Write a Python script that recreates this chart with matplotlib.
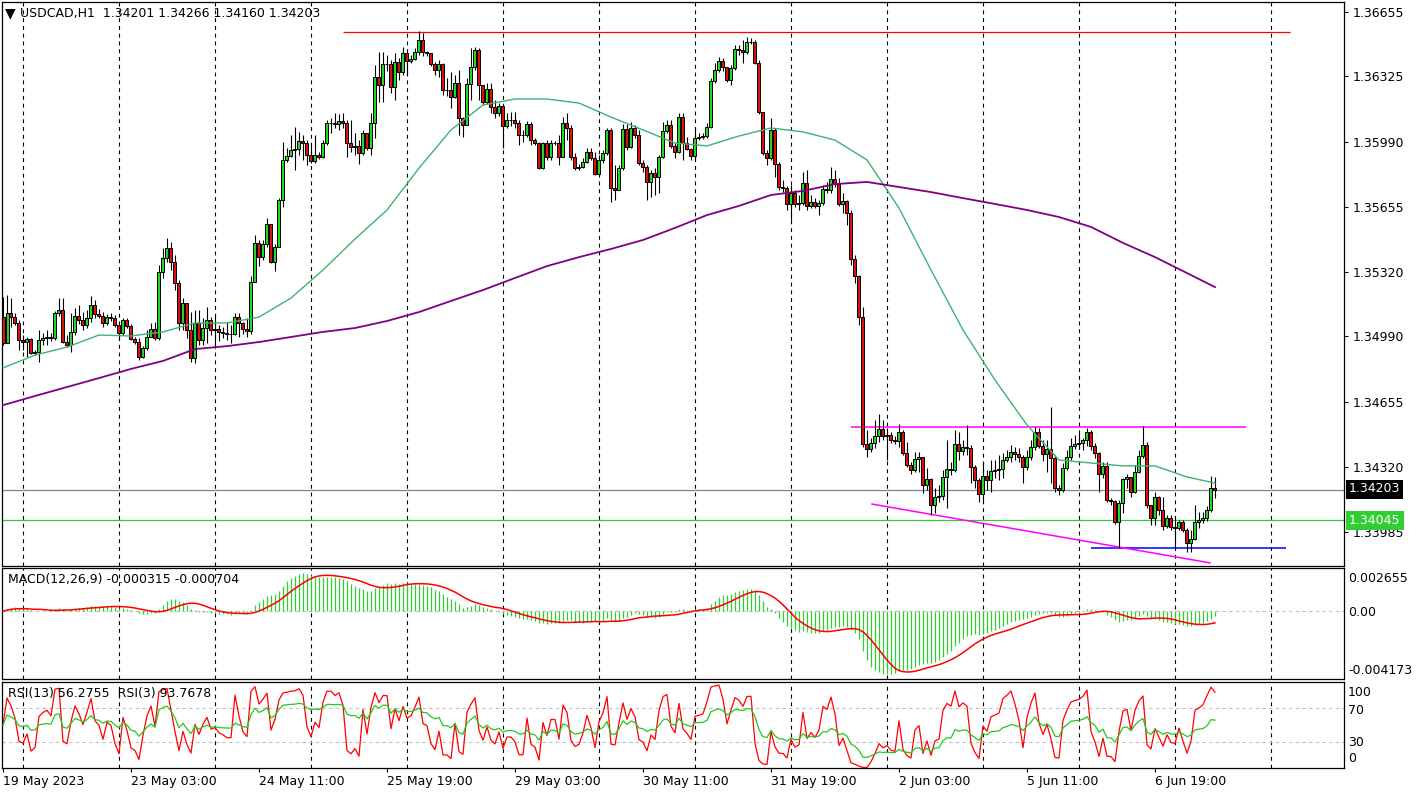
import matplotlib
matplotlib.use('Agg')
import matplotlib.pyplot as plt
import numpy as np
import pandas as pd

# USDCAD H1 bars, in points (1 point = 0.00001)
first_open = 135089
close_pts = [
    134956, 135110, 135089, 135059, 134971, 134961, 134977, 134905, 134910, 134971,
    134982, 134987, 134982, 135110, 135125, 134961, 134945, 135013, 135094, 135074,
    135048, 135084, 135151, 135104, 135094, 135059, 135089, 135084, 135048, 135008,
    135074, 135043, 134977, 134961, 134884, 134930, 134987, 135028, 134982, 135321,
    135392, 135444, 135372, 135264, 135059, 135162, 135023, 134879, 135059, 134971,
    135033, 135074, 135023, 135028, 135013, 135008, 135003, 135003, 135089, 135059,
    135028, 135018, 135269, 135470, 135397, 135464, 135567, 135372, 135449, 135690,
    135896, 135916, 135947, 135952, 135993, 135983, 135921, 135891, 135921, 135911,
    135983, 136086, 136086, 136081, 136096, 136086, 135983, 135962, 135968, 135932,
    136035, 135957, 136086, 136322, 136281, 136388, 136388, 136270, 136399, 136348,
    136445, 136404, 136414, 136450, 136512, 136450, 136445, 136388, 136358, 136388,
    136255, 136255, 136219, 136291, 136111, 136075, 136286, 136373, 136460, 136281,
    136193, 136260, 136168, 136137, 136173, 136070, 136101, 136101, 136086, 136024,
    136024, 136081, 135998, 135983, 135854, 135983, 135911, 135983, 135983, 135911,
    136086, 136060, 135911, 135854, 135860, 135886, 135937, 135906, 135823, 135896,
    135932, 136050, 135752, 135742, 135854, 136055, 135962, 136060, 136024, 135880,
    135860, 135783, 135829, 135808, 135911, 136045, 136075, 135968, 135937, 136116,
    135983, 135952, 135916, 136009, 136014, 136019, 136065, 136301, 136358, 136404,
    136373, 136306, 136368, 136466, 136460, 136450, 136502, 136502, 136394, 136142,
    135932, 135906, 136050, 135875, 135757, 135752, 135670, 135726, 135670, 135675,
    135778, 135660, 135680, 135660, 135675, 135747, 135742, 135798, 135772, 135670,
    135685, 135624, 135387, 135300, 135089, 134437, 134412, 134443, 134479, 134515,
    134479, 134484, 134458, 134453, 134499, 134391, 134330, 134304, 134361, 134371,
    134227, 134258, 134124, 134165, 134170, 134268, 134309, 134304, 134437, 134401,
    134422, 134417, 134319, 134253, 134181, 134273, 134253, 134299, 134304, 134309,
    134355, 134371, 134397, 134386, 134371, 134319, 134371, 134422, 134499, 134427,
    134386, 134412, 134366, 134211, 134201, 134314, 134371, 134427, 134437, 134443,
    134458, 134499, 134427, 134391, 134283, 134325, 134150, 134145, 134037, 134134,
    134258, 134268, 134191, 134294, 134376, 134432, 134124, 134058, 134165, 134099,
    134017, 134058, 134011, 134006, 134037, 133996, 133930, 133950, 134037, 134047,
    134058, 134099, 134211, 134203,
]
high_pts = [
    135192, 135202, 135187, 135110, 135074, 134997, 134987, 134982, 134920, 135023,
    135008, 135023, 135008, 135120, 135187, 135187, 134997, 135110, 135136, 135151,
    135115, 135125, 135197, 135177, 135130, 135115, 135104, 135110, 135099, 135043,
    135084, 135084, 135053, 134987, 134982, 134940, 135023, 135059, 135064, 135356,
    135444, 135495, 135475, 135408, 135279, 135187, 135162, 135115, 135125, 135125,
    135084, 135141, 135089, 135099, 135048, 135038, 135064, 135048, 135110, 135110,
    135064, 135084, 135300, 135510, 135485, 135485, 135598, 135567, 135464, 135700,
    135988, 135957, 136024, 136065, 136040, 136024, 135998, 135973, 136024, 135937,
    135998, 136101, 136111, 136137, 136132, 136137, 136101, 136101, 136035, 135998,
    136050, 136035, 136137, 136384, 136450, 136450, 136435, 136409, 136445, 136419,
    136476, 136450, 136435, 136471, 136558, 136548, 136455, 136435, 136399, 136409,
    136394, 136317, 136348, 136332, 136358, 136116, 136317, 136471, 136476, 136471,
    136281, 136291, 136291, 136204, 136189, 136142, 136137, 136142, 136142, 136101,
    136050, 136096, 136091, 136009, 135988, 135988, 135998, 135998, 135993, 136024,
    136116, 136137, 136075, 135932, 135875, 135906, 135957, 135957, 135937, 135921,
    135947, 136060, 136060, 135870, 135870, 136081, 136081, 136091, 136075, 136050,
    135896, 135870, 135844, 135854, 135921, 136091, 136101, 136101, 135983, 136137,
    136137, 136014, 135957, 136060, 136035, 136035, 136086, 136317, 136394, 136425,
    136419, 136368, 136384, 136486, 136486, 136512, 136527, 136522, 136512, 136409,
    136142, 135947, 136111, 136060, 135886, 135793, 135762, 135767, 135742, 135716,
    135834, 135844, 135716, 135700, 135690, 135767, 135783, 135860, 135844, 135803,
    135726, 135690, 135639, 135408, 135305, 135141, 134509, 134468, 134561, 134591,
    134561, 134520, 134499, 134479, 134540, 134509, 134448, 134345, 134397, 134397,
    134304, 134314, 134263, 134211, 134227, 134304, 134458, 134345, 134509, 134499,
    134458, 134535, 134432, 134330, 134263, 134345, 134304, 134355, 134355, 134381,
    134391, 134407, 134432, 134422, 134417, 134381, 134407, 134458, 134525, 134520,
    134458, 134458, 134627, 134381, 134227, 134340, 134407, 134468, 134484, 134494,
    134468, 134520, 134509, 134443, 134397, 134345, 134345, 134160, 134150, 134150,
    134263, 134283, 134253, 134330, 134407, 134530, 134448, 134124, 134191, 134170,
    134165, 134073, 134073, 134058, 134047, 134047, 134006, 133996, 134124, 134088,
    134088, 134119, 134273, 134266,
]
low_pts = [
    134945, 134971, 135038, 135048, 134920, 134920, 134884, 134900, 134894, 134859,
    134945, 134945, 134966, 134971, 135094, 134956, 134935, 134910, 134997, 135053,
    135023, 135033, 135064, 135084, 135084, 135038, 135048, 135069, 135038, 134971,
    134997, 135033, 134971, 134950, 134869, 134879, 134920, 134987, 134971, 134971,
    135290, 135372, 135331, 135228, 135023, 135023, 134982, 134859, 134854, 134945,
    134945, 134956, 134997, 134945, 134966, 134982, 134971, 134956, 134997, 134987,
    135003, 134987, 135003, 135269, 135351, 135382, 135449, 135367, 135326, 135449,
    135654, 135886, 135911, 135844, 135921, 135896, 135870, 135880, 135880, 135901,
    135906, 135973, 136035, 136060, 136050, 136060, 135911, 135937, 135921, 135875,
    135921, 135947, 135921, 136009, 136193, 136193, 136353, 136240, 136204, 136306,
    136332, 136332, 136394, 136409, 136435, 136430, 136430, 136378, 136332, 136322,
    136229, 136224, 136163, 136214, 136024, 136014, 136075, 136204, 136358, 136204,
    136178, 136183, 136137, 136111, 136121, 135957, 136060, 136070, 136060, 135973,
    135988, 136014, 135973, 135973, 135849, 135849, 135896, 135896, 135973, 135870,
    135911, 135998, 135896, 135844, 135844, 135854, 135880, 135896, 135818, 135818,
    135880, 135921, 135680, 135690, 135742, 135844, 135947, 135957, 136009, 135870,
    135834, 135690, 135706, 135716, 135726, 135906, 136035, 135957, 135906, 135932,
    135896, 135947, 135896, 135896, 135998, 136004, 136009, 136060, 136291, 136348,
    136353, 136296, 136281, 136358, 136435, 136394, 136440, 136491, 136389, 136132,
    135921, 135870, 135896, 135808, 135742, 135732, 135639, 135588, 135654, 135639,
    135665, 135639, 135649, 135649, 135613, 135665, 135726, 135726, 135757, 135660,
    135624, 135562, 135356, 135264, 135048, 134422, 134371, 134397, 134417, 134448,
    134458, 134355, 134443, 134437, 134422, 134381, 134319, 134283, 134294, 134294,
    134186, 134201, 134073, 134083, 134140, 134150, 134109, 134278, 134294, 134355,
    134381, 134381, 134237, 134211, 134140, 134140, 134201, 134191, 134263, 134253,
    134263, 134345, 134345, 134355, 134345, 134237, 134304, 134355, 134407, 134417,
    134350, 134294, 134237, 134191, 134175, 134191, 134304, 134355, 134412, 134417,
    134407, 134427, 134407, 134366, 134191, 134263, 134140, 134124, 134027, 133904,
    134083, 134211, 134165, 134186, 134289, 134366, 134109, 134022, 134022, 134073,
    133996, 134006, 133996, 133904, 133996, 133986, 133883, 133883, 133945, 134006,
    134032, 134042, 134088, 134160,
]

# moving averages read every 8 bars
ma_bars = list(range(0, 297, 8)) + [303]
ma_fast_pts = [
    134828, 134894, 134935, 134997, 134992, 135013, 135059, 135059, 135089, 135187,
    135331, 135490, 135639, 135854, 136050, 136178, 136209, 136209, 136188, 136116,
    136050, 135983, 135968, 136019, 136060, 136040, 135998, 135896, 135649, 135331,
    135023, 134766, 134535, 134355, 134340, 134325, 134325, 134268, 134237,
]
ma_slow_pts = [
    134637, 134684, 134730, 134776, 134823, 134864, 134925, 134940, 134961, 134987,
    135013, 135033, 135069, 135115, 135172, 135228, 135290, 135351, 135397, 135439,
    135485, 135547, 135613, 135660, 135716, 135737, 135772, 135783, 135757, 135731,
    135700, 135670, 135639, 135603, 135552, 135470, 135397, 135315, 135243,
]

date_bars = [0, 32, 64, 96, 128, 160, 192, 224, 256, 288]
date_labels = ['19 May 2023', '23 May 03:00', '24 May 11:00', '25 May 19:00',
               '29 May 03:00', '30 May 11:00', '31 May 19:00', '2 Jun 03:00',
               '5 Jun 11:00', '6 Jun 19:00']
grid_bars = list(range(5, 330, 24))
price_ticks = [1.36655, 1.36325, 1.35990, 1.35655, 1.35320, 1.34990, 1.34655, 1.34320, 1.33985]

# drawn objects: (bar from, bar to, price)
resist_top = (85, 321.75, 1.36553)
range_top = (212, 310.75, 1.34525)
support_low = (272, 320.75, 1.33904)
trend_line = ((217.25, 301.75), (1.34129, 1.33827))
last_price = 1.34203
green_level = 1.34045

W, H = 1416, 795
FS = 9

close = np.array(close_pts) / 1e5
opens = np.concatenate([[first_open / 1e5], close[:-1]])
high = np.maximum(np.array(high_pts) / 1e5, np.maximum(opens, close))
low = np.minimum(np.array(low_pts) / 1e5, np.minimum(opens, close))
x = np.arange(len(close))

fig = plt.figure(figsize=(W / 100, H / 100), dpi=100)
plt.rcParams['font.family'] = ['DejaVu Sans']


def panel(top, bottom):
    a = fig.add_axes([2 / W, 1 - bottom / H, 1342 / W, (bottom - top) / H])
    a.set_xlim(-0.25, 335.25)
    for s in a.spines.values():
        s.set_linewidth(0.9)
    a.tick_params(axis='x', bottom=False, labelbottom=False)
    a.tick_params(axis='y', left=False, labelleft=False, right=False, labelright=False)
    for gb in grid_bars:
        a.axvline(gb, color='black', lw=0.8, ls=(0, (3.5, 3.5)), zorder=1)
    return a


ax = panel(2, 566)
ax_macd = panel(568, 679)
ax_rsi = panel(682, 768)

# price panel
ax.set_ylim(1.33811, 1.36707)
ax.vlines(x, low, high, color='black', lw=0.8, zorder=3)
up = close >= opens
body_lo = np.minimum(opens, close)
body_h = np.maximum(np.abs(close - opens), 0.00001)
ax.bar(x, body_h, bottom=body_lo, width=0.75, color=np.where(up, '#22d822', '#dd1010'),
       edgecolor='black', linewidth=0.7, zorder=4)

ax.plot(ma_bars, np.array(ma_fast_pts) / 1e5, color='#3cb371', lw=1.0, zorder=5)
ax.plot(ma_bars, np.array(ma_slow_pts) / 1e5, color='#800080', lw=1.3, zorder=5)

ax.axhline(last_price, color='#778899', lw=0.9, zorder=2)
ax.axhline(green_level, color='#32cd32', lw=0.9, zorder=2)
ax.hlines(resist_top[2], resist_top[0], resist_top[1], color='#ff0000', lw=0.9, zorder=2)
ax.hlines(range_top[2], range_top[0], range_top[1], color='#ff00ff', lw=1.1, zorder=2)
ax.hlines(support_low[2], support_low[0], support_low[1], color='#0000ff', lw=1.1, zorder=2)
ax.plot(trend_line[0], trend_line[1], color='#ff00ff', lw=1.1, zorder=2)

ax.yaxis.tick_right()
ax.set_yticks(price_ticks, ['%.5f' % p for p in price_ticks])
ax.tick_params(axis='y', right=True, labelright=True, direction='out', length=3, pad=3,
               labelsize=FS, width=0.8)

fig.text(5 / W, 1 - 13 / H, '\u25bc', fontsize=10, va='center', ha='left')
fig.text(20 / W, 1 - 13 / H, 'USDCAD,H1  1.34201 1.34266 1.34160 1.34203',
         fontsize=FS, va='center', ha='left')


def box_label(y, s, fc):
    fig.text(1349 / W, 1 - y / H, s, fontsize=FS, color='white', va='center', ha='left',
             bbox=dict(fc=fc, ec='none', pad=2.2), zorder=10)


box_label(489, '1.34203', 'black')
box_label(520, '1.34045', '#32cd32')

# MACD(12,26,9)
s = pd.Series(close)
macd = s.ewm(span=12, adjust=False).mean() - s.ewm(span=26, adjust=False).mean()
signal = macd.rolling(9, min_periods=1).mean()
ax_macd.set_ylim(-0.004173, 0.002655)
ax_macd.axhline(0, color='#c0c0c0', lw=0.8, ls=(0, (3, 3)), zorder=1)
ax_macd.vlines(x, 0, macd, color='#32cd32', lw=0.9, zorder=2)
ax_macd.plot(x, signal, color='red', lw=1.1, zorder=3)
fig.text(8 / W, 1 - 580 / H, 'MACD(12,26,9) -0.000315 -0.000704', fontsize=FS, va='center')
for yy, t in [(578, '0.002655'), (612, '0.00'), (671, '-0.004173')]:
    fig.text(1348 / W, 1 - yy / H, t, fontsize=FS, va='center', ha='left')


# RSI with Wilder smoothing, started from a neutral average move
def rsi(series, n):
    d = series.diff().fillna(0).to_numpy()
    g = l = np.abs(d[1:n + 1]).mean() / 2
    out = []
    for v in d:
        g = (g * (n - 1) + max(v, 0)) / n
        l = (l * (n - 1) + max(-v, 0)) / n
        out.append(100 - 100 / (1 + g / l) if l > 0 else 100)
    return np.array(out)


ax_rsi.set_ylim(0, 100)
for lev in (70, 30):
    ax_rsi.axhline(lev, color='#c0c0c0', lw=0.8, ls=(0, (3, 3)), zorder=1)
ax_rsi.plot(x, rsi(s, 13), color='#22c822', lw=0.9, zorder=3)
ax_rsi.plot(x, rsi(s, 3), color='red', lw=0.9, zorder=2)
fig.text(8 / W, 1 - 693 / H, 'RSI(13) 56.2755  RSI(3) 93.7678', fontsize=FS, va='center')
for yy, t in [(693, '100'), (710, '70'), (742, '30'), (758, '0')]:
    fig.text(1348 / W, 1 - yy / H, t, fontsize=FS, va='center', ha='left')

ax_rsi.set_xticks(date_bars, date_labels, ha='left')
ax_rsi.tick_params(axis='x', bottom=True, labelbottom=True, direction='out', length=3,
                   pad=2, labelsize=FS, width=0.8)

fig.savefig('out.png', dpi=100)
